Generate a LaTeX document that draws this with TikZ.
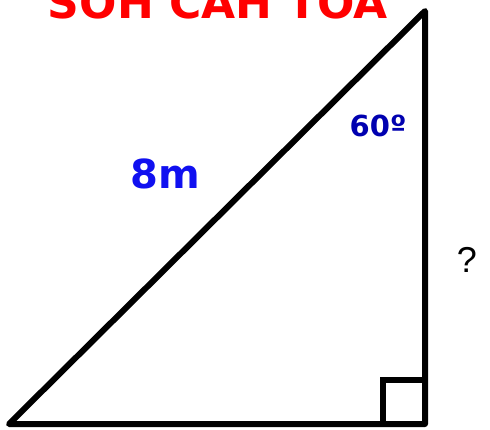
\documentclass[tikz,border=0pt]{standalone}
\usepackage{fontspec}
\setmainfont{Liberation Sans}
\newfontfamily\comicfont{DejaVu Sans}
\definecolor{titlered}{RGB}{255,0,0}
\definecolor{anglblue}{RGB}{0,0,176}
\definecolor{lenblue}{RGB}{16,16,240}
\begin{document}
\begin{tikzpicture}[x=1pt,y=-1pt,
  edge/.style={line width=6pt,line join=round,draw=black},
  lbl/.style={inner sep=0pt,anchor=base}]
\useasboundingbox (0,0) rectangle (490,429);
\clip (0,0) rectangle (490,429);
\coordinate (A) at (9,424);
\coordinate (B) at (425,424);
\coordinate (C) at (425,11);
\coordinate (S1) at (383,424);
\coordinate (S2) at (383,380);
\coordinate (S3) at (425,380);
\draw[edge] (A) -- (B) -- (C) -- cycle;
\draw[edge,line join=miter] (S1) -- (S2) -- (S3);
\node[lbl,text=titlered] (title) at (218,18) {\comicfont\bfseries\fontsize{44}{44}\selectfont\scalebox{1.0}[1.0]{SOH CAH TOA}};
\node[lbl,text=anglblue] (ang) at (378,136) {\comicfont\bfseries\fontsize{29}{29}\selectfont 60º};
\node[lbl,text=lenblue] (len) at (165,188) {\comicfont\bfseries\fontsize{40}{40}\selectfont 8m};
\node[lbl,text=black] (q) at (467,272) {\fontsize{36}{36}\selectfont ?};
\end{tikzpicture}
\end{document}
